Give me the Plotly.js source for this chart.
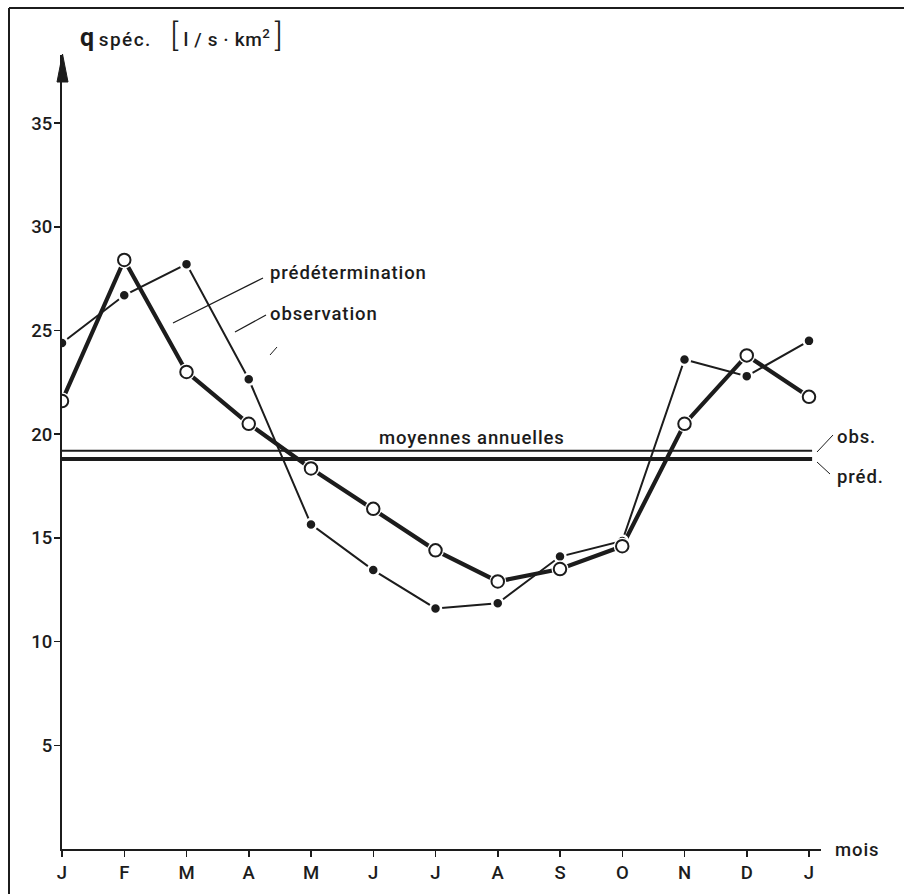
<!DOCTYPE html>
<html>
<head>
<meta charset="utf-8">
<script src="https://cdn.plot.ly/plotly-3.0.1.min.js"></script>
<style>
html,body{margin:0;padding:0;background:#fff;}
#chart{width:904px;height:894px;}
</style>
</head>
<body>
<div id="chart"></div>
<script>
// ---- data ----
const months = ["J","F","M","A","M","J","J","A","S","O","N","D","J"];
const observation = [21.6, 28.4, 23.0, 20.5, 18.35, 16.4, 14.4, 12.9, 13.5, 14.6, 20.5, 23.8, 21.8];
const predetermination = [24.4, 26.7, 28.2, 22.65, 15.65, 13.45, 11.6, 11.85, 14.1, 14.85, 23.6, 22.8, 24.5];
const meanObs = 19.2;
const meanPred = 18.8;
const yTicks = [5, 10, 15, 20, 25, 30, 35];

// ---- layout helpers ----
const W = 904, H = 894, L = 62, R = 83, T = 55, B = 45;
const PW = W - L - R, PH = H - T - B;
const px = x => (x - L) / PW;
const py = y => (H - B - y) / PH;
const INK = "#1c1c1c";
const FONT = "Roboto, 'Liberation Sans', Arial, sans-serif";
const FS = 18.5;
const WT = 500;
const sp = (t, ls) => `<span style="letter-spacing:${ls}px">${t}</span>`;

const xIdx = months.map((_, i) => i);

const traces = [
  {x: xIdx, y: predetermination, mode: "lines", line: {color: INK, width: 2}, hoverinfo: "skip"},
  {x: xIdx, y: observation, mode: "lines", line: {color: INK, width: 4.2}, hoverinfo: "skip"},
  {x: xIdx, y: predetermination, mode: "markers", marker: {color: INK, size: 11, line: {color: "#fff", width: 2.5}}, hoverinfo: "skip"},
  {x: xIdx, y: observation, mode: "markers", marker: {color: "#fff", size: 17, line: {width: 0}}, hoverinfo: "skip"},
  {x: xIdx, y: observation, mode: "markers", marker: {color: "#fff", size: 12.5, line: {color: INK, width: 2}}, hoverinfo: "skip"}
];

function seg(x0, y0, x1, y1, w) {
  return {type: "line", xref: "paper", yref: "paper", x0: px(x0), y0: py(y0), x1: px(x1), y1: py(y1),
          line: {color: INK, width: w || 1}};
}

const shapes = [
  // mean lines
  {type: "line", xref: "x", yref: "y", x0: 0, x1: 12.05, y0: meanObs, y1: meanObs, line: {color: INK, width: 2}, layer: "below"},
  {type: "line", xref: "x", yref: "y", x0: 0, x1: 12.05, y0: meanPred, y1: meanPred, line: {color: INK, width: 4}, layer: "below"},
  // arrow head on y axis
  {type: "path", xref: "paper", yref: "paper",
   path: `M ${px(57)} ${py(82)} L ${px(62.5)} ${py(54)} L ${px(68)} ${py(82)} Z`,
   fillcolor: INK, line: {color: INK, width: 1}},
  // leader lines
  seg(173, 323, 263, 278, 1.2),
  seg(235, 332, 266, 315, 1.2),
  seg(270, 355, 277, 347, 1),
  seg(817, 452, 833, 435, 1),
  seg(817, 462, 830, 474, 1),
  // frame (left and top edges)
  seg(9, 8, 9, 894, 2),
  seg(9, 8, 904, 8, 2)
];

function lab(text, x, y, size, anchor) {
  return {text: text, xref: "paper", yref: "paper", x: px(x), y: py(y), showarrow: false,
          xanchor: anchor || "left", yanchor: "middle",
          font: {family: FONT, size: size || FS, color: INK, weight: WT}};
}

const annotations = [
  lab('<b style="font-size:25px">q</b> ' + sp('spéc.', 1.4) + '    <span style="font-size:32px;font-weight:300">[</span>' +
      sp(' l / s · km', 0.6) + '<sup>2</sup> <span style="font-size:32px;font-weight:300">]</span>', 78, 35, 19),
  lab(sp("prédétermination", 0.9), 268, 273, FS),
  lab(sp("observation", 0.9), 268, 314, FS),
  lab(sp("moyennes annuelles", 0.9), 472, 438, FS, "center"),
  lab(sp("obs.", 0.9), 835, 437, FS),
  lab(sp("préd.", 0.9), 835, 477, FS),
  lab(sp("mois", 0.9), 833, 850, FS)
];

const layout = {
  width: W, height: H,
  margin: {l: L, r: R, t: T, b: B, pad: 0},
  paper_bgcolor: "#fff", plot_bgcolor: "#fff",
  showlegend: false,
  xaxis: {
    range: [0, PW / 62.25], showgrid: false, zeroline: false,
    showline: true, linecolor: INK, linewidth: 2,
    ticks: "outside", ticklen: 6, tickwidth: 1.5, tickcolor: INK,
    tickvals: xIdx, ticktext: months, ticklabelstandoff: 0,
    tickfont: {family: FONT, size: FS, color: INK, weight: WT},
    fixedrange: true
  },
  yaxis: {
    range: [0, PH / 20.74], showgrid: false, zeroline: false,
    showline: true, linecolor: INK, linewidth: 2,
    ticks: "outside", ticklen: 6, tickwidth: 1.5, tickcolor: INK,
    tickvals: yTicks, ticktext: yTicks.map(String), ticklabelstandoff: -2,
    tickfont: {family: FONT, size: FS, color: INK, weight: WT},
    fixedrange: true
  },
  shapes: shapes,
  annotations: annotations
};

Plotly.newPlot("chart", traces, layout, {displayModeBar: false, staticPlot: true});
</script>
</body>
</html>
